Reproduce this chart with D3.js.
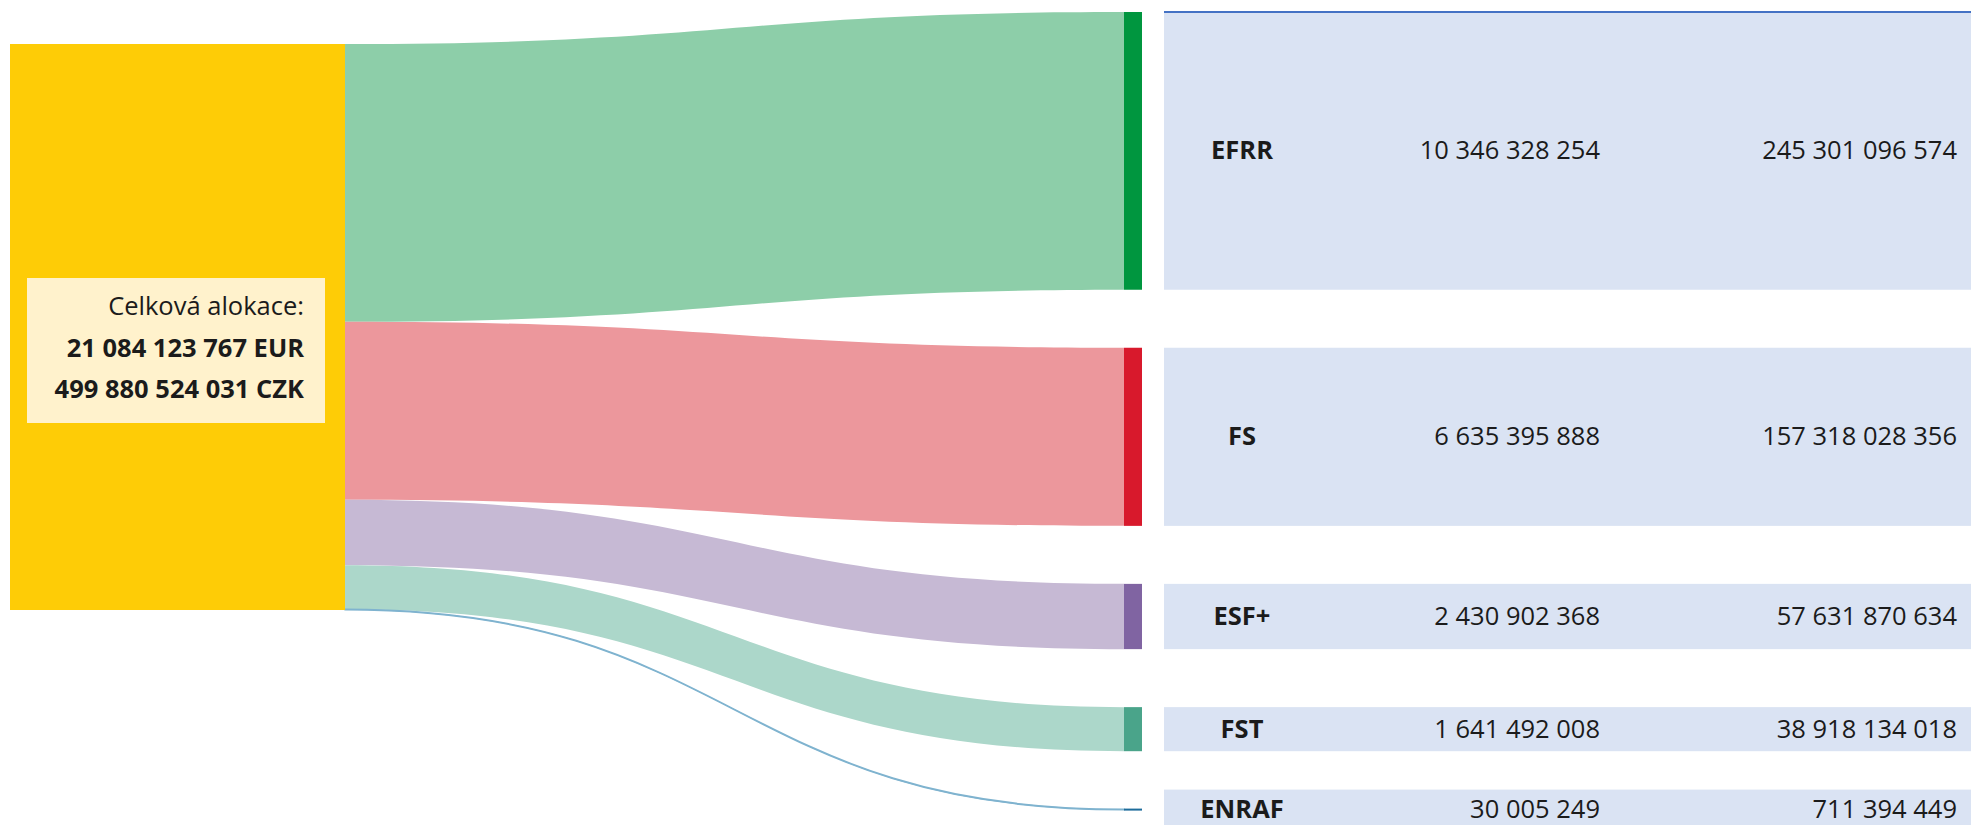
<!DOCTYPE html>
<html>
<head>
<meta charset="utf-8">
<script src="https://cdn.jsdelivr.net/npm/d3@7"></script>
<style>
  body { margin: 0; background: #fff; }
  text { font-family: "Open Sans", "Noto Sans", sans-serif; fill: #1b1b1b; }
</style>
</head>
<body>
<div id="chart"></div>
<script>
// data
var funds = ["EFRR", "FS", "ESF+", "FST", "ENRAF"];
var eur = [10346328254, 6635395888, 2430902368, 1641492008, 30005249];
var czk = [245301096574, 157318028356, 57631870634, 38918134018, 711394449];
var nodeColors = ["#00963f", "#d8192c", "#8064a2", "#4aa48a", "#1d6c9b"];
var linkColors = ["#8dcea9", "#ec979c", "#c6b9d4", "#acd7ca", "#7fb3cf"];
var totalLabel = "Celková alokace:";

var totalEur = d3.sum(eur);
var totalCzk = d3.sum(czk);

var fmt = d3.formatLocale({ decimal: ",", thousands: " ", grouping: [3], currency: ["", ""] }).format(",d");

// Boilerplate
var width = 1971, height = 825;

var svg = d3.select("#chart").append("svg")
            .attr("width", width)
            .attr("height", height);

// --
var srcX0 = 10, srcX1 = 345, srcTop = 44;
var tgtX0 = 1124, tgtX1 = 1142, tgtTop = 12, padding = 58;
var rowX0 = 1164, rowX1 = width;

var k = d3.scaleLinear().domain([0, totalEur]).range([0, 566]);

// stack the flows on both sides
var nodes = [];
var sy = srcTop, ty = tgtTop;
funds.forEach(function(f, i) {
  var h = k(eur[i]);
  nodes.push({ name: f, eur: eur[i], czk: czk[i], h: h,
               sy0: sy, sy1: sy + h, ty0: ty, ty1: ty + h, i: i });
  sy += h;
  ty += h + padding;
});

// --
var linkPath = function(d) {
  var xm = (srcX1 + tgtX0) / 2;
  return "M" + srcX1 + "," + d.sy0 +
         "C" + xm + "," + d.sy0 + " " + xm + "," + d.ty0 + " " + tgtX0 + "," + d.ty0 +
         "L" + tgtX0 + "," + d.ty1 +
         "C" + xm + "," + d.ty1 + " " + xm + "," + d.sy1 + " " + srcX1 + "," + d.sy1 + "Z";
};

svg.selectAll(".link")
   .data(nodes)
   .enter()
   .append("path")
   .attr("class", "link")
   .attr("d", linkPath)
   .attr("fill", function(d) { return linkColors[d.i]; })
   .attr("stroke", function(d) { return d.h < 3 ? linkColors[d.i] : "none"; })
   .attr("stroke-width", 1.2);

// source node
svg.append("rect")
   .attr("x", srcX0)
   .attr("y", srcTop)
   .attr("width", srcX1 - srcX0)
   .attr("height", k(totalEur))
   .attr("fill", "#fecc06");

// table rows
svg.selectAll(".row")
   .data(nodes)
   .enter()
   .append("rect")
   .attr("class", "row")
   .attr("x", rowX0)
   .attr("width", rowX1 - rowX0)
   .attr("y", function(d) { var c = (d.ty0 + d.ty1) / 2; return Math.min(d.ty0, c - 20); })
   .attr("height", function(d) { return Math.max(d.h, 40); })
   .attr("fill", "#dae3f3");

svg.append("line")
   .attr("x1", rowX0).attr("x2", rowX1)
   .attr("y1", tgtTop).attr("y2", tgtTop)
   .attr("stroke", "#4472c4")
   .attr("stroke-width", 2);

// target nodes
svg.selectAll(".node")
   .data(nodes)
   .enter()
   .append("rect")
   .attr("class", "node")
   .attr("x", tgtX0)
   .attr("y", function(d) { return (d.ty0 + d.ty1) / 2 - Math.max(d.h, 2) / 2; })
   .attr("width", tgtX1 - tgtX0)
   .attr("height", function(d) { return Math.max(d.h, 2); })
   .attr("fill", function(d) { return nodeColors[d.i]; });

// --
var rows = svg.selectAll(".lbl")
              .data(nodes)
              .enter()
              .append("g")
              .attr("transform", function(d) { return "translate(0," + (d.ty0 + d.ty1) / 2 + ")"; });

rows.append("text")
    .attr("x", 1242)
    .attr("dy", "0.33em")
    .attr("text-anchor", "middle")
    .attr("font-size", 25.5)
    .attr("font-weight", "bold")
    .text(function(d) { return d.name; });

rows.append("text")
    .attr("x", 1600)
    .attr("dy", "0.33em")
    .attr("text-anchor", "end")
    .attr("font-size", 25.5)
    .text(function(d) { return fmt(d.eur); });

rows.append("text")
    .attr("x", 1957)
    .attr("dy", "0.33em")
    .attr("text-anchor", "end")
    .attr("font-size", 25.5)
    .text(function(d) { return fmt(d.czk); });

// total label
svg.append("rect")
   .attr("x", 27).attr("y", 278)
   .attr("width", 298).attr("height", 145)
   .attr("fill", "#fff2cc");

var lines = [
  { t: totalLabel, b: false },
  { t: fmt(totalEur) + " EUR", b: true },
  { t: fmt(totalCzk) + " CZK", b: true }
];

svg.selectAll(".tot")
   .data(lines)
   .enter()
   .append("text")
   .attr("x", 304)
   .attr("y", function(d, i) { return 315 + i * 41.5; })
   .attr("text-anchor", "end")
   .attr("font-size", 25.5)
   .attr("font-weight", function(d) { return d.b ? "bold" : "normal"; })
   .text(function(d) { return d.t; });
</script>
</body>
</html>
